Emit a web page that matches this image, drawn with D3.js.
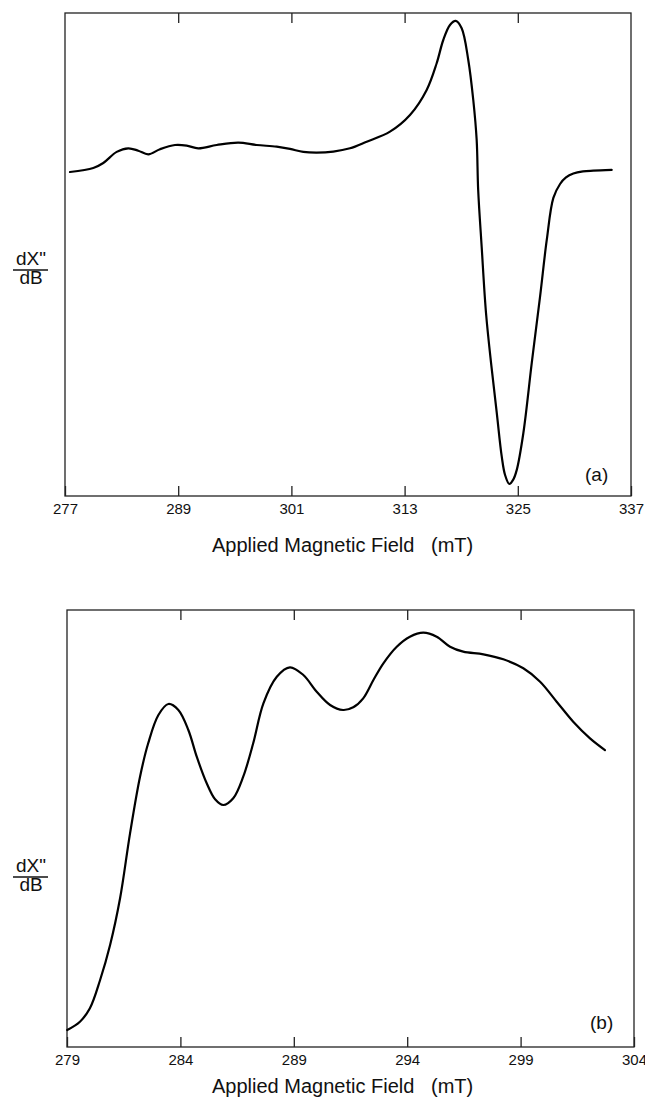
<!DOCTYPE html>
<html>
<head>
<meta charset="utf-8">
<script src="https://cdn.jsdelivr.net/npm/d3@7"></script>
<style>
  html, body { margin: 0; padding: 0; background: #fff; }
  svg { display: block; }
  text { font-family: "Liberation Sans", Arial, sans-serif; fill: #111; }
</style>
</head>
<body>
<svg id="chart" width="645" height="1099"></svg>
<script>
// ---------- Data ----------
// Panel (a): field in mT, derivative signal in arbitrary units (baseline = 0)
const fieldA = [277.53, 280.0, 281.06, 282.48, 283.71, 284.77, 285.83, 287.07, 288.66, 289.9,
  291.13, 293.08, 295.37, 297.32, 299.44, 300.85, 302.26, 303.68, 305.44, 307.21,
  308.98, 311.45, 313.57, 315.34, 316.4, 317.1, 317.81, 318.42, 319.05, 319.75,
  320.28, 320.64, 320.8, 321.17, 321.63, 322.2, 322.77, 323.3, 323.65, 324.1,
  324.5, 324.89, 325.59, 326.48, 327.36, 328.07, 328.77, 329.48, 330.11, 330.89,
  331.91, 333.0, 334.95];
const signalA = [-0.007, 0.02, 0.053, 0.127, 0.151, 0.135, 0.111, 0.145, 0.173, 0.169,
  0.151, 0.173, 0.189, 0.173, 0.162, 0.147, 0.127, 0.122, 0.129, 0.151,
  0.195, 0.262, 0.373, 0.54, 0.718, 0.873, 0.973, 1.0, 0.951, 0.74,
  0.473, 0.207, -0.127, -0.505, -0.947, -1.3, -1.613, -1.905, -2.027, -2.087,
  -2.06, -1.993, -1.747, -1.28, -0.838, -0.46, -0.18, -0.087, -0.043, -0.017,
  -0.003, 0.002, 0.007];
const ticksA = [277, 289, 301, 313, 325, 337];

// Panel (b): field in mT, derivative signal in arbitrary units
const fieldB = [279.01, 279.57, 280.01, 280.46, 280.9, 281.34, 281.78, 282.22, 282.58, 283.03,
  283.47, 283.91, 284.35, 284.72, 285.16, 285.53, 285.89, 286.33, 286.77, 287.21,
  287.66, 288.25, 288.83, 289.42, 290.01, 290.6, 291.17, 291.62, 292.06, 292.51,
  292.95, 293.54, 294.12, 294.71, 295.3, 295.89, 296.47, 297.36, 298.24, 299.12,
  299.86, 300.59, 301.32, 302.06, 302.72];
const signalB = [3.89, 5.79, 8.86, 15.33, 23.34, 34.03, 48.9, 61.85, 69.5, 75.97,
  78.49, 77.12, 72.54, 66.43, 60.34, 56.68, 55.38, 56.91, 61.85, 69.5,
  78.65, 84.74, 86.89, 85.13, 81.3, 78.26, 77.12, 77.73, 79.79, 83.98,
  87.8, 91.6, 93.89, 94.81, 93.89, 91.6, 90.46, 89.86, 88.72, 86.66,
  83.59, 79.02, 74.44, 70.64, 67.96];
const ticksB = [279, 284, 289, 294, 299, 304];

const xTitle = "Applied Magnetic Field\u00A0\u00A0\u00A0(mT)";
const yTop = "dX\"";
const yBottom = "dB";

// ---------- Drawing ----------
const svg = d3.select("#chart");

function panel(cfg) {
  const { left, right, top, bottom, xDomain, yDomain, fields, values, ticks, tag, tagX, tagY, labelLineY, titleY } = cfg;
  const x = d3.scaleLinear().domain(xDomain).range([left, right]);
  const y = d3.scaleLinear().domain(yDomain).range([bottom, top]);
  const g = svg.append("g");

  // frame
  g.append("rect")
    .attr("x", left).attr("y", top)
    .attr("width", right - left).attr("height", bottom - top)
    .attr("fill", "none").attr("stroke", "#222").attr("stroke-width", 1.3);

  // bottom axis with inward ticks and labels
  const axB = g.append("g").attr("transform", `translate(0,${bottom})`)
    .call(d3.axisBottom(x).tickValues(ticks).tickSizeInner(-10).tickSizeOuter(0).tickPadding(7).tickFormat(d3.format("d")));
  axB.attr("font-size", 15).attr("font-family", "'Liberation Sans', Arial, sans-serif");
  axB.select(".domain").remove();
  axB.selectAll(".tick line").attr("stroke", "#222").attr("stroke-width", 1.3);
  axB.selectAll(".tick text").style("font-size", "15px").attr("fill", "#111");

  // top axis, ticks only
  const axT = g.append("g").attr("transform", `translate(0,${top})`)
    .call(d3.axisTop(x).tickValues(ticks.slice(1, -1)).tickSizeInner(-10).tickSizeOuter(0).tickFormat(""));
  axT.select(".domain").remove();
  axT.selectAll(".tick line").attr("stroke", "#222").attr("stroke-width", 1.3);

  // curve
  const line = d3.line()
    .x((d, i) => x(fields[i]))
    .y((d) => y(d))
    .curve(d3.curveCatmullRom.alpha(0.5));
  g.append("path").datum(values)
    .attr("d", line)
    .attr("fill", "none").attr("stroke", "#000").attr("stroke-width", 2.2)
    .attr("stroke-linejoin", "round").attr("stroke-linecap", "round");

  // panel tag
  g.append("text").attr("x", tagX).attr("y", tagY)
    .style("font-size", "19px").text(tag);

  // x title
  g.append("text").attr("x", 212).attr("y", titleY)
    .style("font-size", "20px").text(xTitle);

  // y label as a fraction
  const cx = 31;
  g.append("text").attr("x", cx).attr("y", labelLineY - 5)
    .attr("text-anchor", "middle").style("font-size", "19px").text(yTop);
  g.append("line").attr("x1", 13).attr("x2", 48)
    .attr("y1", labelLineY).attr("y2", labelLineY)
    .attr("stroke", "#111").attr("stroke-width", 1.4);
  g.append("text").attr("x", cx).attr("y", labelLineY + 14)
    .attr("text-anchor", "middle").style("font-size", "19px").text(yBottom);
}

panel({
  left: 65, right: 631, top: 13, bottom: 496,
  xDomain: [277, 337], yDomain: [-2.167, 1.053],
  fields: fieldA, values: signalA, ticks: ticksA,
  tag: "(a)", tagX: 585, tagY: 481, labelLineY: 270, titleY: 552
});

panel({
  left: 67, right: 634, top: 610, bottom: 1047,
  xDomain: [279, 304], yDomain: [0, 100],
  fields: fieldB, values: signalB, ticks: ticksB,
  tag: "(b)", tagX: 590, tagY: 1029, labelLineY: 877, titleY: 1093
});
</script>
</body>
</html>
